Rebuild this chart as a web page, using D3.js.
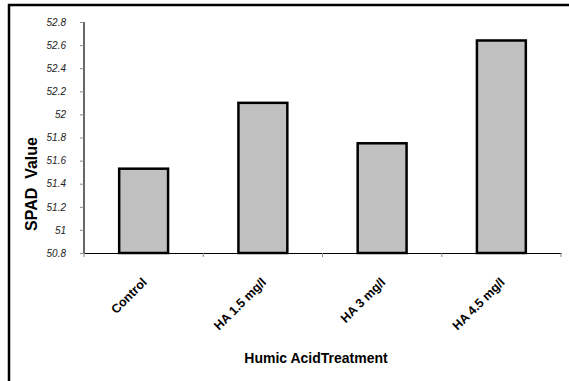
<!DOCTYPE html>
<html><head><meta charset="utf-8">
<script src="https://cdn.jsdelivr.net/npm/d3@7"></script>
<style>body{margin:0;background:#fff}svg{display:block}</style>
</head><body>
<svg id="c" width="569" height="381"></svg>
<script>
const categories = ["Control", "HA 1.5 mg/l", "HA 3 mg/l", "HA 4.5 mg/l"];
const values = [51.53, 52.10, 51.75, 52.64];
const yTicks = [50.8, 51, 51.2, 51.4, 51.6, 51.8, 52, 52.2, 52.4, 52.6, 52.8];
const xTitle = "Humic AcidTreatment";
const yTitle = "SPAD  Value";

const svg = d3.select("#c");
const m = {l: 84, r: 561, t: 22, b: 253};
const x = d3.scaleBand().domain(categories).range([m.l, m.r]).paddingInner(0.59).paddingOuter(0.295);
const y = d3.scaleLinear().domain([50.8, 52.8]).range([m.b, m.t]);

svg.append("rect").attr("x", 9).attr("y", 5).attr("width", 620).attr("height", 420)
  .attr("fill", "none").attr("stroke", "#000").attr("stroke-width", 2.5);

// bars
svg.append("g").selectAll("rect").data(values).join("rect")
  .attr("x", (d, i) => x(categories[i]))
  .attr("width", x.bandwidth())
  .attr("y", d => y(d))
  .attr("height", d => y(50.8) - y(d))
  .attr("fill", "#c0c0c0").attr("stroke", "#000").attr("stroke-width", 2.5);

// y axis
const ya = svg.append("g").attr("transform", `translate(${m.l},0)`)
  .call(d3.axisLeft(y).tickValues(yTicks).tickSize(4).tickPadding(14).tickFormat(d3.format("")));
ya.select(".domain").attr("stroke", "#000").attr("stroke-width", 1.2).attr("d", `M0,${m.t}V${m.b}`);
ya.selectAll(".tick line").attr("stroke", "#888");
ya.selectAll("text").attr("font-family", "Liberation Sans, Arial, sans-serif")
  .attr("font-size", 10).attr("font-style", "italic").attr("fill", "#222");

// x axis
const xa = svg.append("g").attr("transform", `translate(0,${m.b})`)
  .call(d3.axisBottom(x).tickSize(0).tickFormat(""));
xa.select(".domain").attr("stroke", "#000").attr("stroke-width", 1.2);
const bounds = categories.map(c => x(c) - x.step() * x.paddingInner() / 2 ).map((v,i)=> i===0 ? m.l : v);
bounds.push(m.r);
xa.selectAll(".bt").data(bounds).join("line").attr("class", "bt")
  .attr("x1", d => d).attr("x2", d => d).attr("y1", 0).attr("y2", 4).attr("stroke", "#888");
xa.selectAll(".tick").append("text")
  .attr("transform", "translate(4,30) rotate(-45)")
  .attr("text-anchor", "end").attr("fill", "#000")
  .attr("font-family", "Liberation Sans, Arial, sans-serif")
  .attr("font-size", 12.5).attr("font-weight", "bold")
  .text(d => d);

// titles
svg.append("text").attr("x", 316).attr("y", 363).attr("text-anchor", "middle")
  .attr("font-family", "Liberation Sans, Arial, sans-serif").attr("font-size", 14).attr("font-weight", "bold")
  .text(xTitle);
svg.append("text").attr("transform", "translate(37,184) rotate(-90)").attr("text-anchor", "middle")
  .attr("font-family", "Liberation Sans, Arial, sans-serif").attr("font-size", 16).attr("font-weight", "bold")
  .style("white-space", "pre")
  .text(yTitle);
</script>
</body></html>
